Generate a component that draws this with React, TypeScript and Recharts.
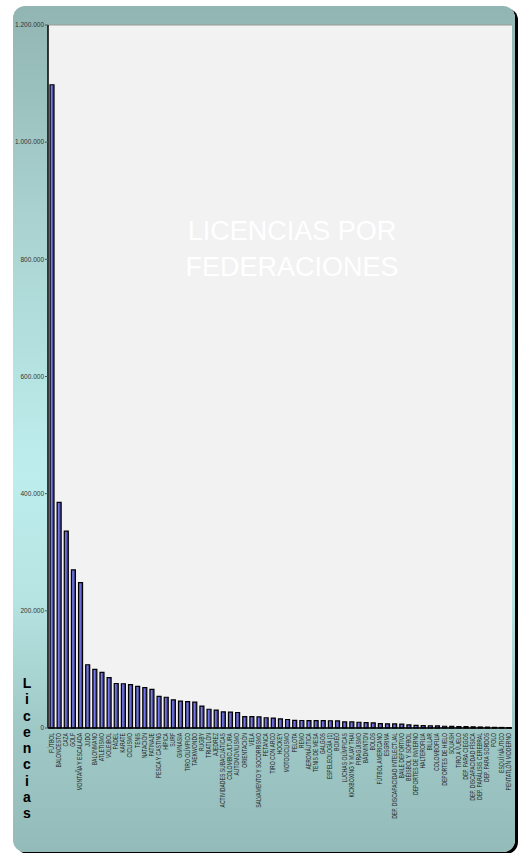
import React from 'react';
import { BarChart, Bar, XAxis, YAxis, CartesianGrid } from 'recharts';

const federations = [
  'FÚTBOL', 'BALONCESTO', 'CAZA', 'GOLF', 'MONTAÑA Y ESCALADA', 'JUDO', 'BALONMANO', 'ATLETISMO',
  'VOLEIBOL', 'PÁDEL', 'KARATE', 'CICLISMO', 'TENIS', 'NATACIÓN', 'PATINAJE', 'PESCA Y CASTING',
  'HÍPICA', 'SURF', 'GIMNASIA', 'TIRO OLÍMPICO', 'TAEKWONDO', 'RUGBY', 'TRIATLÓN', 'AJEDREZ',
  'ACTIVIDADES SUBACUÁTICAS', 'COLOMBICULTURA', 'AUTOMOVILISMO', 'ORIENTACIÓN', 'VELA',
  'SALVAMENTO Y SOCORRISMO', 'PETANCA', 'TIRO CON ARCO', 'HOCKEY', 'MOTOCICLISMO', 'PELOTA', 'REMO',
  'AERONÁUTICA', 'TENIS DE MESA', 'GALGOS', 'ESPELEOLOGÍA (1)', 'BOXEO', 'LUCHAS OLÍMPICAS',
  'KICKBOXING Y MUAY THAI', 'PIRAGÜISMO', 'BÁDMINTON', 'BOLOS', 'FÚTBOL AMERICANO', 'ESGRIMA',
  'DEP. DISCAPACIDAD INTELECTUAL', 'BAILE DEPORTIVO', 'BÉISBOL Y SÓFBOL', 'DEPORTES DE INVIERNO',
  'HALTEROFILIA', 'BILLAR', 'COLOMBOFILIA', 'DEPORTES DE HIELO', 'SQUASH', 'TIRO A VUELO',
  'DEP. PARA CIEGOS', 'DEP. DISCAPACIDAD FÍSICA', 'DEP. PARÁLISIS CEREBRAL', 'DEP. PARA SORDOS',
  'POLO', 'ESQUÍ NÁUTICO', 'PENTATLÓN MODERNO',
];

const licencias = [
  1098000, 385000, 336000, 270000, 248000, 108000, 100000, 95000,
  86000, 76000, 75500, 74000, 71000, 69000, 66000, 54000,
  52500, 48000, 46000, 45000, 44000, 37500, 32000, 30500,
  27500, 27000, 26500, 19500, 19500,
  19000, 17500, 17000, 15500, 14500, 13000, 12800,
  12700, 12600, 12500, 12400, 12000, 10500,
  10300, 9800, 9300, 8800, 7500, 7200,
  7000, 6600, 5500, 4600,
  4200, 3800, 3500, 3000, 2800, 2600,
  2200, 2000, 1700, 1500,
  1100, 900, 600,
];

const yTicks = [0, 200000, 400000, 600000, 800000, 1000000, 1200000];

const data = federations.map((name, i) => ({ name, value: licencias[i] }));

const FONT = '"Liberation Sans", Arial, sans-serif';

const formatThousands = (v: number) => String(v).replace(/\B(?=(\d{3})+(?!\d))/g, '.');

const CategoryTick = ({ x, y, payload }: any) => (
  <g transform={`translate(${x},${y}) rotate(-90) scale(0.78,1)`}>
    <text x={0} y={0} dy={2.3} textAnchor="end" fontSize={6.5} fill="#222" fontFamily={FONT}>
      {payload.value}
    </text>
  </g>
);

export default function App() {
  return (
    <div style={{ position: 'absolute', left: 0, top: 0, width: 527, height: 853, overflow: 'hidden' }}>
      <div
        style={{
          position: 'absolute',
          left: 13,
          top: 6,
          width: 502,
          height: 846,
          borderRadius: 12,
          boxShadow: '3px 2px 0 #000',
          background: 'linear-gradient(to bottom, #91b5b2 0%, #a9d2d0 25%, #bdeeed 55%, #b6e4e2 70%, #9fc9c7 85%, #93bbb9 100%)',
        }}
      />
      <div style={{ position: 'absolute', left: 0, top: 0 }}>
        <BarChart
          width={527}
          height={853}
          data={data}
          margin={{ top: 25, right: 15, left: 13, bottom: 5 }}
          barSize={4}
        >
          <defs>
            <linearGradient id="barFill" x1="0" y1="0" x2="1" y2="0">
              <stop offset="0%" stopColor="#48488f" />
              <stop offset="40%" stopColor="#7b7bf5" />
              <stop offset="65%" stopColor="#50509f" />
              <stop offset="100%" stopColor="#42428e" />
            </linearGradient>
          </defs>
          <CartesianGrid vertical={false} stroke="#999" fill="#f2f2f2" />
          <XAxis
            dataKey="name"
            interval={0}
            height={120}
            tick={<CategoryTick />}
            tickLine={false}
            tickSize={3}
            tickMargin={2}
            axisLine={{ stroke: '#000', strokeWidth: 1.5 }}
          />
          <YAxis
            yAxisId="left"
            width={35}
            domain={[0, 1200000]}
            ticks={yTicks}
            tickFormatter={formatThousands}
            tick={{ fontSize: 6.5, fill: '#333', fontFamily: FONT }}
            tickSize={3}
            tickMargin={1}
            tickLine={{ stroke: '#555' }}
            axisLine={{ stroke: '#000', strokeWidth: 1.5 }}
          />
          <YAxis yAxisId="right" orientation="right" width={0} tick={false} tickLine={false} axisLine={{ stroke: '#999', strokeWidth: 1.5 }} />
          <Bar yAxisId="left" dataKey="value" fill="url(#barFill)" stroke="#000" strokeWidth={1.2} isAnimationActive={false} />
        </BarChart>
      </div>
      <div
        style={{
          position: 'absolute',
          left: 168,
          top: 214,
          width: 248,
          textAlign: 'center',
          fontFamily: FONT,
          fontSize: 27,
          lineHeight: '35.5px',
          color: '#fff',
          pointerEvents: 'none',
        }}
      >
        LICENCIAS POR
        <br />
        FEDERACIONES
      </div>
      <div
        style={{
          position: 'absolute',
          left: 20,
          top: 675,
          width: 14,
          textAlign: 'center',
          fontFamily: FONT,
          fontSize: 14,
          fontWeight: 'bold',
          lineHeight: '16.25px',
          color: '#000',
        }}
      >
        {'Licencias'.split('').map((ch, i) => (
          <div key={i}>{ch}</div>
        ))}
      </div>
    </div>
  );
}
